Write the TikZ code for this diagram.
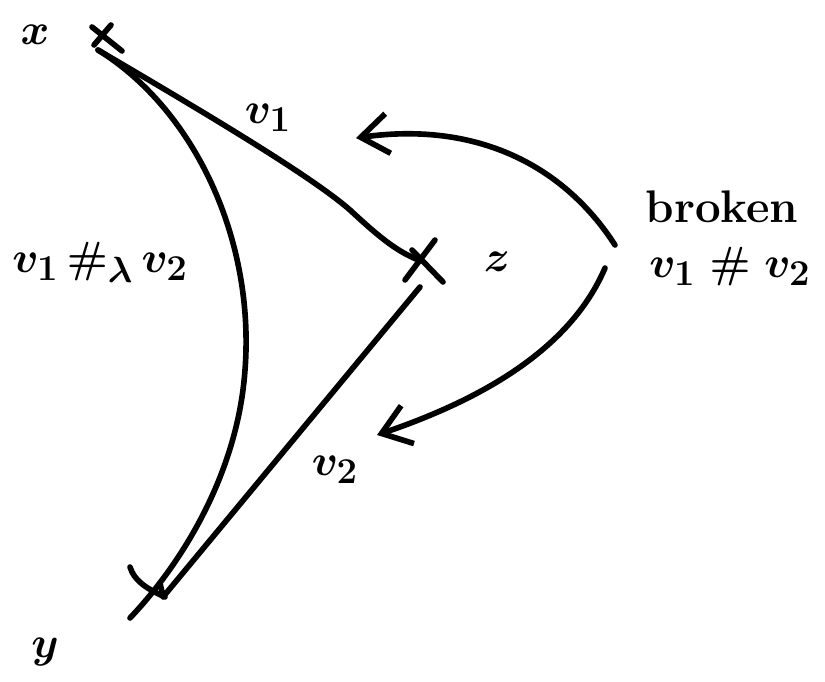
\documentclass[tikz,border=0pt]{standalone}
\usetikzlibrary{arrows.meta}
\begin{document}
\begin{tikzpicture}[x=0.02cm,y=-0.02cm,
  stroke/.style={line width=3.2pt,line cap=round,line join=round},
  lbl/.style={inner sep=0pt,font=\fontsize{31}{37}\selectfont\boldmath},
  arr/.style={stroke,-{Straight Barb[length=0.55cm,width=0.8cm,line width=3.2pt]}}]
\useasboundingbox (0,0) rectangle (825,682);
% points
\coordinate (x) at (98,50);
\coordinate (z) at (416,259);
\coordinate (zb) at (420,287);
\coordinate (y) at (163,597);
\coordinate (yend) at (130,618);
% crosses
\draw[stroke] (92,27) -- (122,51);
\draw[stroke] (111,25) -- (94,45);
\draw[stroke] (435,240) -- (405,280);
\draw[stroke] (412,250) -- (443,282);
\draw[stroke] (130,567) .. controls (134,580) and (145,588) .. (165,597);
% lines
\draw[stroke] (x) .. controls (200,110) and (310,175) .. (350,210) .. controls (378,236) and (395,250) .. (z);
\draw[stroke] (x) .. controls (195,110) and (255,240) .. (245,370) .. controls (238,470) and (185,560) .. (yend);
\draw[stroke] (zb) -- (y) -- (160,583);
% labels
\node[lbl] (lx) at (35,35) {$x$};
\node[lbl] (lz) at (497,262) {$z$};
\node[lbl] (ly) at (45,652) {$y$};
\node[lbl] (lv1) at (268,118) {$v_1$};
\node[lbl] (lv2) at (335,470) {$v_2$};
\node[lbl] (lglue) at (100,262) {$v_1\,\#_{\lambda}\, v_2$};
\node[lbl,font=\fontsize{26}{31}\selectfont\bfseries] (lbroken) at (722,207) {broken};
\node[lbl] (lbv) at (730,267) {$v_1\;\#\; v_2$};
% arrows
\coordinate (a1s) at (615,245);
\coordinate (a1e) at (356,138);
\coordinate (a2s) at (605,268);
\coordinate (a2e) at (377,435);
\draw[arr] (a1s) .. controls (560,160) and (470,122) .. (a1e);
\draw[arr] (a2s) .. controls (570,350) and (480,400) .. (a2e);
\end{tikzpicture}
\end{document}
